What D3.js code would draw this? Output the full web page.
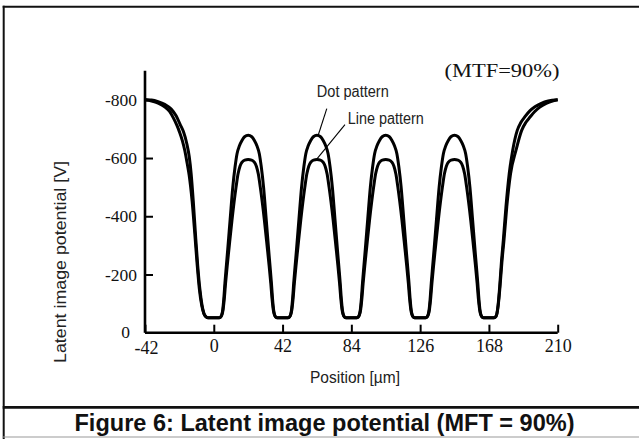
<!DOCTYPE html>
<html>
<head>
<meta charset="utf-8">
<script src="https://cdn.jsdelivr.net/npm/d3@7"></script>
<style>
  html, body { margin: 0; padding: 0; background: #fff; }
  svg { display: block; }
</style>
</head>
<body>
<svg id="chart" width="639" height="439"></svg>
<script>
// ---- data ----
const xTicksMajor = [-42, 0, 42, 84, 126, 168, 210];
const xTicksMinor = [-21, 21, 63, 105, 147, 189];
const yTicksMajor = [0, -200, -400, -600, -800];
const yTicksMinor = [-100, -300, -500, -700, -900];

const dotPattern = [
  [-42,-800],[-38,-799],[-34,-794],[-30,-785],[-26,-768],[-23,-745],[-20.5,-715],[-18.5,-690],[-16.5,-650],[-15,-605],[-13.8,-545],[-12.5,-450],[-11.2,-340],[-9.8,-230],[-8.5,-150],[-7.2,-95],[-6,-66],[-4.8,-55],[-3.4,-51],
  [0,-51],
  [3.2,-51],[4.2,-54],[4.9,-62],[5.5,-80],[6.1,-115],[6.8,-170],[7.6,-225],[8.5,-285],[10,-390],[11.6,-500],[13,-570],[14.2,-615],[15.6,-641],[17.2,-660],[18.8,-673],[21,-678],[23.2,-673],[24.8,-660],[26.4,-641],[27.8,-615],[29,-570],[30.4,-500],[32,-390],[33.5,-285],[34.4,-225],[35.2,-170],[35.9,-115],[36.5,-80],[37.1,-62],[37.8,-54],[38.8,-51],
  [42,-51],
  [45.2,-51],[46.2,-54],[46.9,-62],[47.5,-80],[48.1,-115],[48.8,-170],[49.6,-225],[50.5,-285],[52,-390],[53.6,-500],[55,-570],[56.2,-615],[57.6,-641],[59.2,-660],[60.8,-673],[63,-678],[65.2,-673],[66.8,-660],[68.4,-641],[69.8,-615],[71,-570],[72.4,-500],[74,-390],[75.5,-285],[76.4,-225],[77.2,-170],[77.9,-115],[78.5,-80],[79.1,-62],[79.8,-54],[80.8,-51],
  [84,-51],
  [87.2,-51],[88.2,-54],[88.9,-62],[89.5,-80],[90.1,-115],[90.8,-170],[91.6,-225],[92.5,-285],[94,-390],[95.6,-500],[97,-570],[98.2,-615],[99.6,-641],[101.2,-660],[102.8,-673],[105,-678],[107.2,-673],[108.8,-660],[110.4,-641],[111.8,-615],[113,-570],[114.4,-500],[116,-390],[117.5,-285],[118.4,-225],[119.2,-170],[119.9,-115],[120.5,-80],[121.1,-62],[121.8,-54],[122.8,-51],
  [126,-51],
  [129.2,-51],[130.2,-54],[130.9,-62],[131.5,-80],[132.1,-115],[132.8,-170],[133.6,-225],[134.5,-285],[136,-390],[137.6,-500],[139,-570],[140.2,-615],[141.6,-641],[143.2,-660],[144.8,-673],[147,-678],[149.2,-673],[150.8,-660],[152.4,-641],[153.8,-615],[155,-570],[156.4,-500],[158,-390],[159.5,-285],[160.4,-225],[161.2,-170],[161.9,-115],[162.5,-80],[163.1,-62],[163.8,-54],[164.8,-51],
  [168,-51],
  [171.2,-51],[172.2,-55],[172.9,-66],[173.6,-95],[174.6,-160],[175.6,-240],[176.8,-318],[178.4,-432],[180.4,-546],[182.5,-626],[185.3,-695],[187.5,-722],[190,-742],[193,-762],[196.1,-776],[200,-788],[204.2,-796],[210,-800]
];

const linePattern = [
  [-42,-800],[-38,-796],[-34,-789],[-30,-776],[-27,-760],[-24.7,-738],[-22.5,-712],[-20.9,-689],[-19.2,-660],[-17.7,-626],[-16.2,-580],[-15,-540],[-13.2,-450],[-11.6,-340],[-10.1,-230],[-8.8,-150],[-7.4,-95],[-6.1,-66],[-4.8,-55],[-3.4,-51],
  [0,-51],
  [3.2,-51],[4.2,-54],[5,-62],[5.7,-80],[6.4,-115],[7.2,-170],[8.2,-230],[9.3,-290],[11.1,-386],[13.6,-500],[14.8,-545],[16,-572],[17.3,-586],[18.9,-593],[21,-595],[23.1,-593],[24.7,-586],[26,-572],[27.2,-545],[28.4,-500],[30.9,-386],[32.7,-290],[33.8,-230],[34.8,-170],[35.6,-115],[36.3,-80],[37,-62],[37.8,-54],[38.8,-51],
  [42,-51],
  [45.2,-51],[46.2,-54],[47,-62],[47.7,-80],[48.4,-115],[49.2,-170],[50.2,-230],[51.3,-290],[53.1,-386],[55.6,-500],[56.8,-545],[58,-572],[59.3,-586],[60.9,-593],[63,-595],[65.1,-593],[66.7,-586],[68,-572],[69.2,-545],[70.4,-500],[72.9,-386],[74.7,-290],[75.8,-230],[76.8,-170],[77.6,-115],[78.3,-80],[79,-62],[79.8,-54],[80.8,-51],
  [84,-51],
  [87.2,-51],[88.2,-54],[89,-62],[89.7,-80],[90.4,-115],[91.2,-170],[92.2,-230],[93.3,-290],[95.1,-386],[97.6,-500],[98.8,-545],[100,-572],[101.3,-586],[102.9,-593],[105,-595],[107.1,-593],[108.7,-586],[110,-572],[111.2,-545],[112.4,-500],[114.9,-386],[116.7,-290],[117.8,-230],[118.8,-170],[119.6,-115],[120.3,-80],[121,-62],[121.8,-54],[122.8,-51],
  [126,-51],
  [129.2,-51],[130.2,-54],[131,-62],[131.7,-80],[132.4,-115],[133.2,-170],[134.2,-230],[135.3,-290],[137.1,-386],[139.6,-500],[140.8,-545],[142,-572],[143.3,-586],[144.9,-593],[147,-595],[149.1,-593],[150.7,-586],[152,-572],[153.2,-545],[154.4,-500],[156.9,-386],[158.7,-290],[159.8,-230],[160.8,-170],[161.6,-115],[162.3,-80],[163,-62],[163.8,-54],[164.8,-51],
  [168,-51],
  [171.2,-51],[172.2,-55],[172.9,-66],[173.7,-95],[174.8,-160],[175.9,-240],[177.2,-318],[178.9,-432],[181.2,-546],[184.5,-626],[188,-695],[190.5,-722],[193,-740],[196,-760],[199.1,-775],[203,-788],[206.3,-795],[210,-800]
];

// annotation anchors in data units
const dotLabel = { text: "Dot pattern", at: [62.9, -811], leader: [[69, -770], [63.8, -679]] };
const lineLabel = { text: "Line pattern", at: [81.8, -718], leader: [[80.1, -715], [63, -597]] };

// ---- drawing ----
const svg = d3.select("#chart");
const W = 639, H = 439;
const x = d3.scaleLinear().domain([-42, 210]).range([145, 557.7]);
const y = d3.scaleLinear().domain([0, -900]).range([332.7, 70.7]);

// frame
svg.append("rect").attr("width", W).attr("height", H).attr("fill", "#fff");
svg.append("line").attr("x1", 2.7).attr("x2", W).attr("y1", 6.7).attr("y2", 6.7).attr("stroke", "#111").attr("stroke-width", 2);
svg.append("line").attr("x1", 3.7).attr("x2", 3.7).attr("y1", 5.7).attr("y2", H).attr("stroke", "#111").attr("stroke-width", 2);
svg.append("line").attr("x1", 2.7).attr("x2", W).attr("y1", 407.3).attr("y2", 407.3).attr("stroke", "#111").attr("stroke-width", 2.7);
svg.append("line").attr("x1", 2.7).attr("x2", W).attr("y1", 437).attr("y2", 437).attr("stroke", "#999").attr("stroke-width", 1.2);

// caption
svg.append("text").attr("x", 324.5).attr("y", 430.5).attr("text-anchor", "middle")
  .attr("font-family", "Liberation Sans, Arial, sans-serif").attr("font-weight", "bold")
  .attr("font-size", 23.5).attr("fill", "#111")
  .attr("textLength", 500).attr("lengthAdjust", "spacingAndGlyphs")
  .text("Figure 6: Latent image potential (MFT = 90%)");

// axes
const serif = "Liberation Serif, Times New Roman, serif";
const sans = "Liberation Sans, Arial, sans-serif";

const gx = svg.append("g").attr("transform", `translate(0,${y(0)})`);
gx.call(d3.axisBottom(x).tickValues(xTicksMinor).tickSize(-5.5).tickFormat(""));
gx.call(d3.axisBottom(x).tickValues(xTicksMajor).tickSize(-8).tickPadding(7).tickFormat(d => d));
gx.selectAll(".domain").attr("stroke", "#000").attr("stroke-width", 2.6).attr("d", `M${x(-42)},0H${x(210)}`);
gx.selectAll(".tick line").attr("stroke", "#000").attr("stroke-width", 2);
gx.selectAll(".tick text").attr("font-family", serif).attr("font-size", 18).attr("fill", "#111");
gx.selectAll(".tick text").filter(d => d === -42).attr("dx", 1).attr("dy", "0.8em");

const gy = svg.append("g").attr("transform", `translate(${x(-42)},0)`);
gy.call(d3.axisLeft(y).tickValues(yTicksMinor).tickSize(-5.5).tickFormat(""));
gy.call(d3.axisLeft(y).tickValues(yTicksMajor).tickSize(-8).tickPadding(8).tickFormat(d => d));
gy.selectAll(".domain").attr("stroke", "#000").attr("stroke-width", 2.6).attr("d", `M0,${y(-900)}V${y(0)}`);
gy.selectAll(".tick line").attr("stroke", "#000").attr("stroke-width", 2);
gy.selectAll(".tick text").attr("font-family", serif).attr("font-size", 17.5).attr("fill", "#111");
gy.selectAll(".tick").filter(d => d === 0).select("line").remove();
gy.selectAll(".tick text").filter(d => d === 0).attr("x", -15).attr("dy", "0.25em");

// axis titles
svg.append("text").attr("x", 355).attr("y", 383).attr("text-anchor", "middle")
  .attr("font-family", sans).attr("font-size", 17).attr("fill", "#222")
  .attr("textLength", 90).attr("lengthAdjust", "spacingAndGlyphs")
  .text("Position [\u00b5m]");
svg.append("text").attr("transform", "translate(66,262) rotate(-90)").attr("text-anchor", "middle")
  .attr("font-family", sans).attr("font-size", 17).attr("fill", "#222")
  .attr("textLength", 202).attr("lengthAdjust", "spacingAndGlyphs")
  .text("Latent image potential [V]");

// MTF label
svg.append("text").attr("x", 444.5).attr("y", 76.5)
  .attr("font-family", serif).attr("font-size", 19).attr("fill", "#111")
  .attr("textLength", 115).attr("lengthAdjust", "spacingAndGlyphs")
  .text("(MTF=90%)");

// curves
const line = d3.line().x(d => x(d[0])).y(d => y(d[1])).curve(d3.curveMonotoneX);
[dotPattern, linePattern].forEach(s => {
  svg.append("path").datum(s).attr("d", line).attr("fill", "none")
    .attr("stroke", "#000").attr("stroke-width", 3).attr("stroke-linejoin", "round");
});

// annotations
[[dotLabel, 72], [lineLabel, 76]].forEach(([a, len]) => {
  svg.append("text").attr("x", x(a.at[0])).attr("y", y(a.at[1]))
    .attr("font-family", sans).attr("font-size", 16).attr("fill", "#222")
    .attr("textLength", len).attr("lengthAdjust", "spacingAndGlyphs")
    .text(a.text);
  svg.append("line")
    .attr("x1", x(a.leader[0][0])).attr("y1", y(a.leader[0][1]))
    .attr("x2", x(a.leader[1][0])).attr("y2", y(a.leader[1][1]))
    .attr("stroke", "#000").attr("stroke-width", 1.1);
});
</script>
</body>
</html>
